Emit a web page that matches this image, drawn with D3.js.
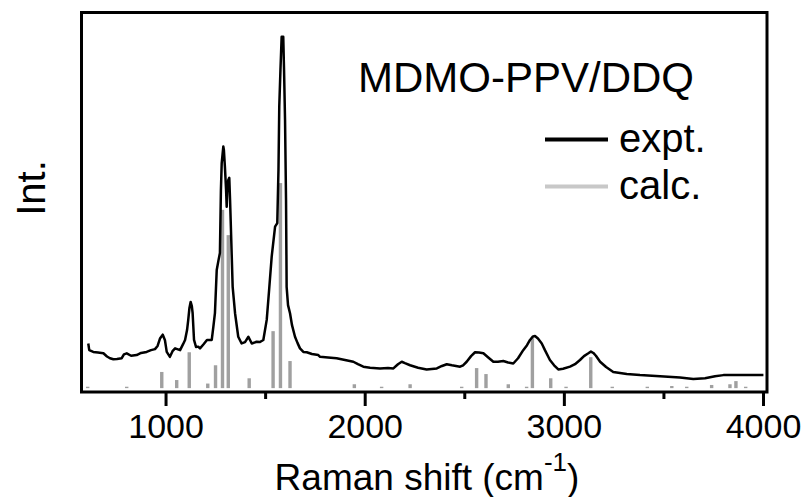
<!DOCTYPE html>
<html>
<head>
<meta charset="utf-8">
<script src="https://cdn.jsdelivr.net/npm/d3@7"></script>
<style>
  body { margin: 0; background: #fff; }
  text { font-family: "Liberation Sans", Arial, sans-serif; }
</style>
</head>
<body>
<script>
// experimental Raman spectrum (wavenumber, intensity)
var exptShift = [612, 617, 637, 661, 688, 706, 721, 738, 756, 780, 791, 805, 827, 855, 877, 905, 927, 947, 960, 972,
  986, 997, 1006, 1022, 1035, 1048, 1073, 1088, 1098, 1108, 1114, 1120, 1126, 1132, 1136, 1143, 1153, 1164, 1173, 1190,
  1208, 1232, 1240, 1248, 1257, 1266, 1273, 1278, 1282, 1290, 1293, 1298, 1304, 1307, 1311, 1315, 1320, 1324, 1327, 1337,
  1349, 1365, 1382, 1399, 1416, 1433, 1458, 1474, 1491, 1508, 1520, 1533, 1550, 1561, 1567, 1571, 1577, 1583, 1591, 1595,
  1600, 1605, 1608, 1615, 1625, 1635, 1650, 1663, 1675, 1692, 1709, 1735, 1767, 1776, 1816, 1859, 1901, 1943, 1966, 1993,
  2027, 2077, 2117, 2144, 2167, 2186, 2202, 2228, 2268, 2311, 2362, 2388, 2412, 2438, 2479, 2494, 2512, 2534, 2554, 2574,
  2596, 2619, 2646, 2669, 2696, 2720, 2746, 2770, 2796, 2815, 2830, 2845, 2855, 2870, 2889, 2905, 2930, 2951, 2972, 2996,
  3031, 3056, 3081, 3101, 3123, 3136, 3148, 3161, 3182, 3212, 3248, 3282, 3316, 3382, 3483, 3583, 3650, 3709, 3759, 3801,
  3885, 4002];
var exptInt = [12.7, 10.8, 10.3, 10.1, 9.9, 9.0, 8.5, 8.2, 8.3, 8.5, 9.6, 9.9, 9.2, 9.4, 10.0, 10.3, 10.8, 11.1, 12.0, 14.1,
  15.2, 13.6, 10.3, 8.9, 10.5, 11.3, 10.8, 12.5, 13.7, 16.5, 19.4, 22.8, 24.5, 23.3, 21.3, 13.7, 11.7, 11.8, 11.3, 12.4,
  13.7, 13.7, 17.4, 21.3, 33.6, 36.4, 38.4, 56.3, 64.0, 68.7, 67.7, 63.0, 56.3, 51.6, 57.8, 59.2, 59.8, 53.5, 47.8, 28.8,
  21.3, 14.6, 12.7, 13.1, 14.6, 12.7, 13.2, 13.1, 13.7, 19.4, 27.9, 37.4, 45.9, 46.9, 62.0, 80.1, 90.5, 99.9, 99.9, 90.5,
  76.3, 53.5, 28.8, 23.6, 21.3, 17.9, 14.6, 12.8, 11.3, 10.3, 10.2, 9.7, 9.4, 8.9, 8.7, 8.5, 8.0, 7.5, 6.8, 6.1,
  5.8, 5.6, 5.7, 5.6, 6.8, 7.5, 7.1, 6.5, 5.8, 5.3, 5.6, 6.3, 6.8, 6.5, 6.1, 6.5, 7.5, 9.1, 10.2, 10.1,
  9.9, 8.8, 7.5, 7.5, 7.7, 7.3, 7.0, 8.5, 10.8, 12.2, 13.7, 14.7, 14.8, 14.1, 12.7, 10.8, 8.0, 6.5, 5.3, 5.5,
  6.1, 6.8, 8.0, 9.1, 9.9, 10.4, 10.0, 9.2, 7.5, 6.0, 4.6, 4.3, 4.0, 3.7, 3.4, 3.0, 2.6, 2.8, 3.4, 3.7,
  3.7, 3.7];

// calculated modes (stick spectrum)
var calcShift = [609, 805, 981, 1056, 1119, 1212, 1251, 1286, 1315, 1420, 1540, 1577, 1625, 1948, 2085, 2228, 2487,
  2562, 2609, 2721, 2813, 2842, 2934, 3011, 3135, 3243, 3419, 3542, 3617, 3742, 3834, 3864, 3913];
var calcInt = [0.4, 0.4, 4.6, 2.3, 10.2, 1.3, 6.5, 50.7, 43.5, 2.8, 16.2, 58.3, 7.7, 1.1, 0.4, 1.1, 0.4,
  5.7, 4.0, 1.1, 0.4, 14.2, 2.8, 0.4, 8.8, 0.4, 0.4, 0.6, 0.4, 0.9, 1.1, 2.0, 0.4];

var majorTicks = [1000, 2000, 3000, 4000];
var minorTicks = [1500, 2500, 3500];
var legendNames = ["expt.", "calc."];
var legendColors = ["#000000", "#c8c8c8"];

var width = 806, height = 497;
var plotLeft = 81.5, plotRight = 767, plotTop = 12.5, plotBottom = 392;

var svg = d3.select("body").append("svg")
  .attr("width", width)
  .attr("height", height);

var x = d3.scaleLinear().domain([578, 4020]).range([plotLeft, plotRight]);
var y = d3.scaleLinear().domain([-1.1, 106.8]).range([plotBottom, plotTop]);

// calc sticks
svg.append("g").selectAll("rect")
  .data(calcShift)
  .enter().append("rect")
  .attr("x", d => x(d) - 1.7)
  .attr("width", 3.4)
  .attr("y", (d, i) => y(calcInt[i]))
  .attr("height", (d, i) => y(0) - y(calcInt[i]))
  .attr("fill", "#a0a0a0");

// expt line
var line = d3.line()
  .x(d => x(d[0]))
  .y(d => y(d[1]));
svg.append("path")
  .datum(exptShift.map((d, i) => [d, exptInt[i]]))
  .attr("d", line)
  .attr("fill", "none")
  .attr("stroke", "#000")
  .attr("stroke-width", 2.5)
  .attr("stroke-linejoin", "round");

// frame
svg.append("rect")
  .attr("x", plotLeft).attr("y", plotTop)
  .attr("width", plotRight - plotLeft).attr("height", plotBottom - plotTop)
  .attr("fill", "none")
  .attr("stroke", "#000")
  .attr("stroke-width", 3);

// x axis
var xAxis = d3.axisBottom(x).tickValues(majorTicks).tickSize(14).tickSizeOuter(0).tickPadding(8)
  .tickFormat(d3.format("d"));
var gx = svg.append("g").attr("transform", "translate(0," + plotBottom + ")").call(xAxis);
gx.select(".domain").remove();
gx.selectAll("line").attr("stroke", "#000").attr("stroke-width", 3);
gx.selectAll("text").attr("font-size", 34).attr("fill", "#000");

var gm = svg.append("g").attr("transform", "translate(0," + plotBottom + ")")
  .call(d3.axisBottom(x).tickValues(minorTicks).tickSize(7).tickFormat(""));
gm.select(".domain").remove();
gm.selectAll("line").attr("stroke", "#000").attr("stroke-width", 3);

// axis titles
var xt = svg.append("text")
  .attr("x", 427).attr("y", 490)
  .attr("text-anchor", "middle")
  .attr("font-size", 37);
xt.append("tspan").text("Raman shift (cm");
xt.append("tspan").attr("font-size", 26).attr("dy", -19).text("-1");
xt.append("tspan").attr("dy", 19).text(")");

svg.append("text")
  .attr("transform", "translate(45,188) rotate(-90)")
  .attr("text-anchor", "middle")
  .attr("font-size", 40)
  .text("Int.");

// title & legend
svg.append("text")
  .attr("x", 358).attr("y", 92)
  .attr("font-size", 42)
  .text("MDMO-PPV/DDQ");

var lg = svg.append("g").selectAll("g")
  .data(legendNames)
  .enter().append("g")
  .attr("transform", (d, i) => "translate(0," + (139.5 + i * 47) + ")");
lg.append("line")
  .attr("x1", 545).attr("x2", 608)
  .attr("stroke", (d, i) => legendColors[i])
  .attr("stroke-width", 4);
lg.append("text")
  .attr("x", 619).attr("y", 12.5)
  .attr("font-size", 40)
  .text(d => d);
</script>
</body>
</html>
